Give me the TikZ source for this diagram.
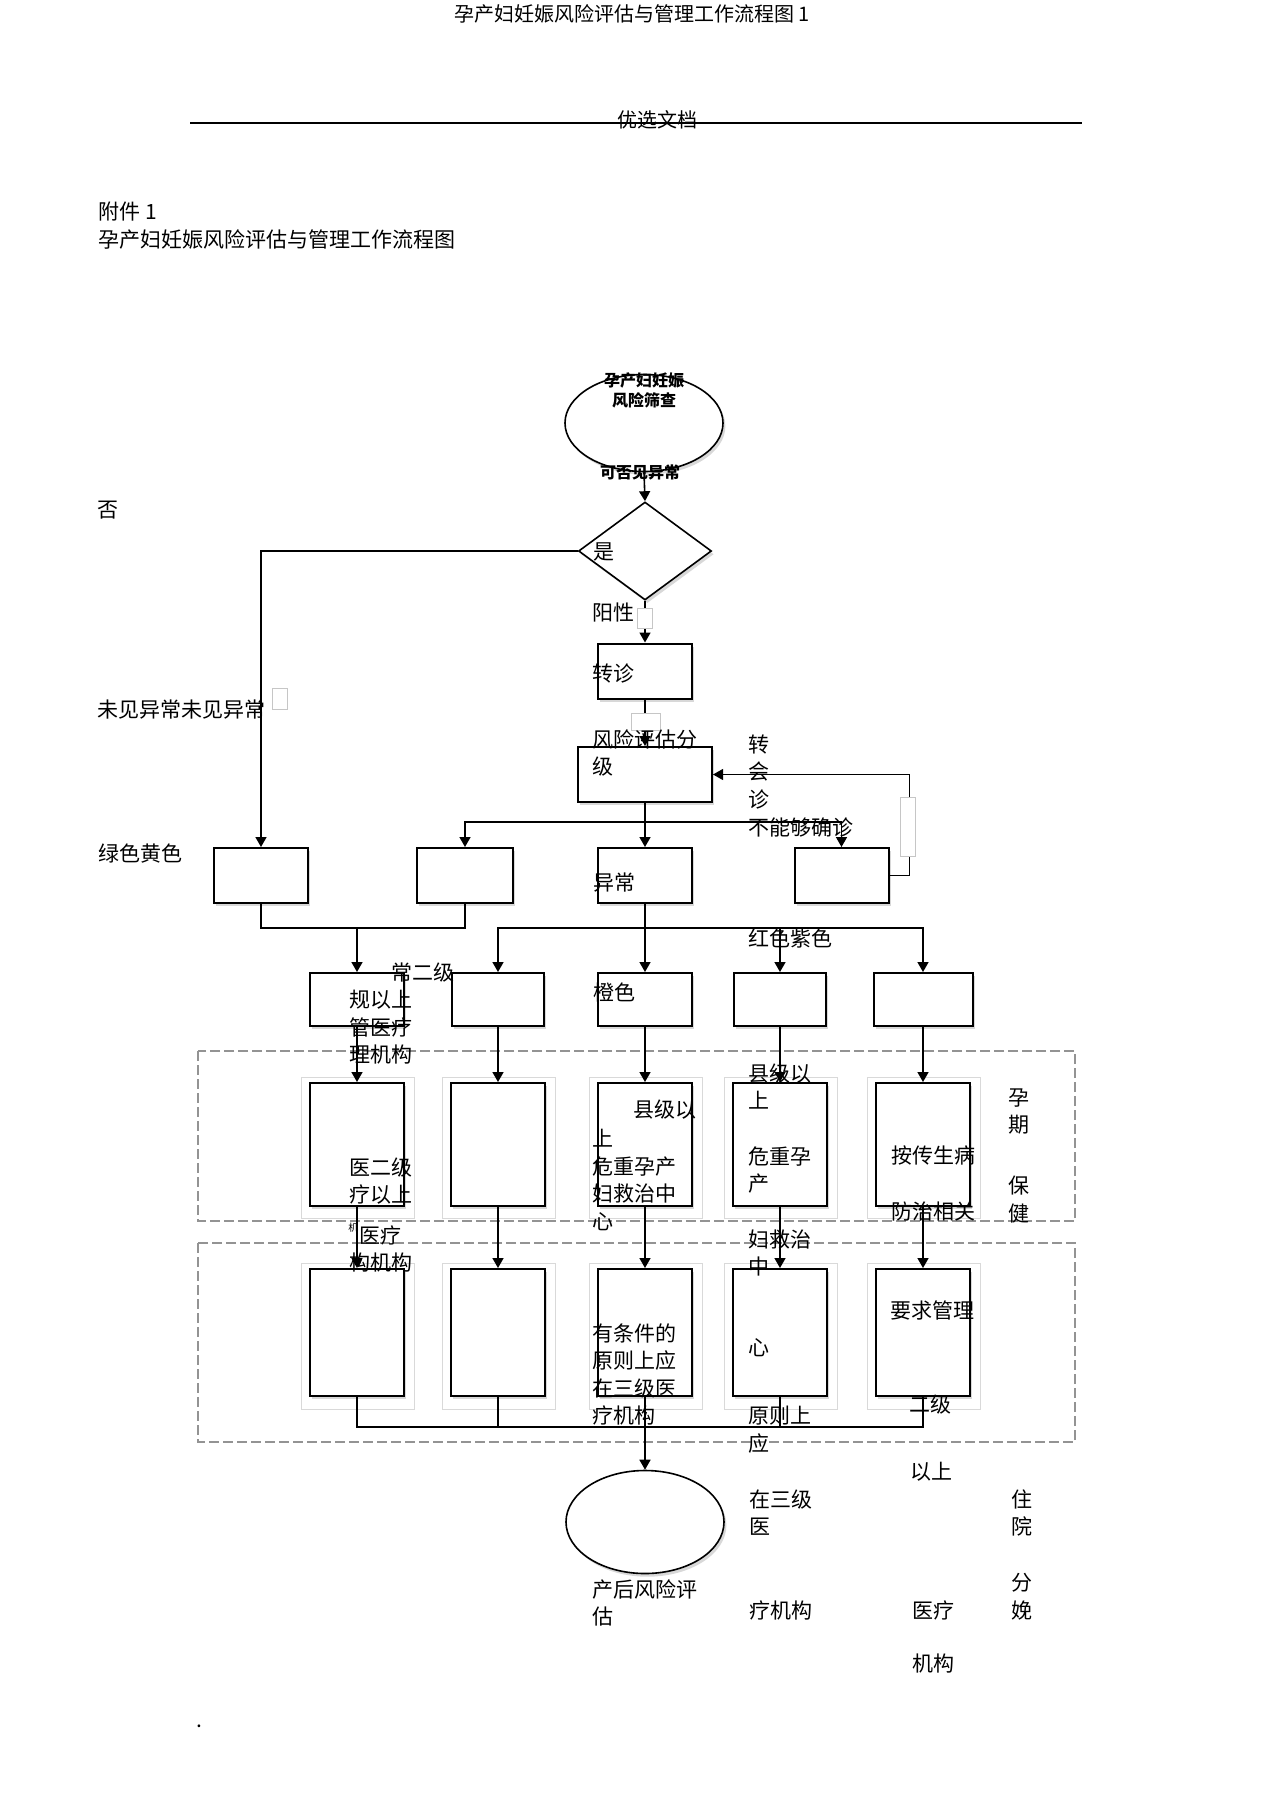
\documentclass[tikz,border=0pt]{standalone}
\usepackage{fontspec}
\setmainfont{Noto Sans CJK SC}
\usetikzlibrary{arrows.meta,shapes.geometric,shadows,calc}

\tikzset{
  softshade/.style={drop shadow={shadow xshift=1.2pt,shadow yshift=-1.6pt,opacity=.3}},
  box/.style={draw,line width=1pt,fill=white,minimum width=47pt,minimum height=27.5pt,inner sep=0pt,softshade},
  tallbox/.style={box,minimum height=61.5pt},
  oval/.style={ellipse,draw,line width=0.8pt,fill=white,minimum width=79pt,inner sep=0pt,softshade},
  dia/.style={diamond,draw,line width=0.8pt,fill=white,minimum width=66.5pt,minimum height=49pt,inner sep=0pt,softshade},
  grp/.style={draw=gray!85,line width=1pt,dash pattern=on 5pt off 2pt},
  litframe/.style={draw=gray!30,line width=0.5pt},
  tinybox/.style={draw=gray!45,fill=white,line width=0.4pt},
  line/.style={line width=0.8pt},
  conn/.style={line width=0.8pt,-{Triangle[length=5pt,width=5.5pt]}},
  thinconn/.style={line width=0.5pt,-{Triangle[length=5pt,width=5.5pt]}},
  hdr/.style={font=\fontsize{10pt}{12pt}\selectfont,inner sep=0pt},
  lbl/.style={font=\fontsize{10.5pt}{13.75pt}\selectfont,inner sep=0pt,anchor=west,align=left},
  mlbl/.style={lbl,anchor=north west},
  small/.style={font=\fontsize{8pt}{10pt}\selectfont\bfseries,inner sep=0pt,align=center}
}

\begin{document}
\begin{tikzpicture}[x=0.5pt,y=-0.5pt]
  \useasboundingbox[fill=white] (0,0) rectangle (1274,1804);

  % page header
  \node[hdr] (title) at (632,14) {孕产妇妊娠风险评估与管理工作流程图 1};
  \draw[line width=1pt] (190,123) -- (1082,123);
  \node[hdr] (doc) at (657,120) {优选文档};
  \node[lbl] (att) at (98,212) {附件 1};
  \node[lbl] (head) at (98,240) {孕产妇妊娠风险评估与管理工作流程图};

  % dashed stages
  \draw[grp] (198,1051) rectangle (1075,1221);
  \draw[grp] (198,1243) rectangle (1075,1442);

  % screening and grading
  \node[oval,minimum height=48.5pt] (scr) at (644,423) {};
  \node[dia] (chk) at (645,551) {};
  \node[box] (ref) at (645,671) {};
  \node[box,minimum width=67pt] (grade) at (645,774.5) {};

  % colour boxes
  \node[box] (green) at (261,875.5) {};
  \node[box,minimum width=48pt] (yellow) at (465,875.5) {};
  \node[box] (abn) at (645,875.5) {};
  \node[box] (unsure) at (841.5,875.5) {};

  % management level
  \node[box,minimum height=26.5pt] (r1) at (357,999.5) {};
  \node[box,minimum height=26.5pt,minimum width=46pt] (r2) at (498,999.5) {};
  \node[box,minimum height=26.5pt] (r3) at (645,999.5) {};
  \node[box,minimum height=26.5pt,minimum width=46pt] (r4) at (780,999.5) {};
  \node[box,minimum height=26.5pt,minimum width=49.5pt] (r5) at (923,999.5) {};

  % pregnancy care and delivery
  \foreach \x/\n in {357/1,498/2,645/3,780/4,923/5} {
    \draw[litframe] (\x-56,1077) rectangle (\x+57,1218);
    \node[tallbox] (q\n) at (\x,1144.5) {};
    \draw[litframe] (\x-56,1263) rectangle (\x+57,1409);
    \node[tallbox,minimum height=63.5pt] (p\n) at (\x,1332.5) {};
  }

  \node[oval,minimum height=51.5pt] (post) at (645,1522) {};

  % connectors
  \draw[conn] (scr.south) -- (chk.north);
  \draw[conn] (chk.west) -| (green.north);
  \draw[conn] (chk.south) -- (ref.north);
  \draw[conn] (ref.south) -- (grade.north);
  \draw[conn] (grade.south) -- (abn.north);
  \coordinate (split1) at (645,822);
  \draw[conn] (split1) -| (yellow.north);
  \draw[conn] (split1) -| (unsure.north);
  \draw[thinconn] (unsure.east) -- ++(20,0) |- (grade.east);

  \coordinate (join1) at (357,928);
  \draw[line] (green.south) |- (join1) -| (yellow.south);
  \draw[conn] (join1) -- (r1.north);
  \coordinate (split2) at (645,928);
  \draw[conn] (abn.south) -- (r3.north);
  \draw[conn] (split2) -| (r2.north);
  \draw[conn] (split2) -| (r4.north);
  \draw[conn] (split2) -| (r5.north);

  \foreach \n in {1,...,5} {
    \draw[conn] (r\n.south) -- (q\n.north);
    \draw[conn] (q\n.south) -- (p\n.north);
  }
  \coordinate (join2) at (645,1427);
  \foreach \n in {1,2,4,5} \draw[line] (p\n.south) |- (join2);
  \draw[conn] (p3.south) -- (post.north);

  % stray marks
  \draw[tinybox] (272,688) rectangle (287,709);
  \draw[tinybox] (637,608) rectangle (652,628);
  \draw[tinybox] (631,713) rectangle (660,730);
  \draw[tinybox] (900,797) rectangle (915,856);

  % texts
  \node[small] (scrtxt) at (644,390) {孕产妇妊娠\\风险筛查};
  \node[small] (chktxt) at (640,472) {可否见异常};
  \node[lbl] (no) at (97,510) {否};
  \node[lbl] (yes) at (593,552) {是};
  \node[lbl] (pos) at (592,613) {阳性};
  \node[lbl] (none) at (97,710) {未见异常未见异常};
  \node[lbl] (reftxt) at (592,673) {转诊};
  \node[mlbl] (gradetxt) at (592,729) {风险评估分\\级};
  \node[mlbl] (consult) at (748,734) {转\\会\\诊};
  \node[lbl] (cannot) at (748,827) {不能够确诊};
  \node[lbl] (gy) at (98,854) {绿色黄色};
  \node[lbl] (abntxt) at (593,883) {异常};
  \node[lbl] (rp) at (748,938) {红色紫色};
  \node[lbl] (t1a) at (391,973) {常二级};
  \node[mlbl] (t1b) at (349,990) {规以上\\管医疗\\理机构};
  \node[lbl] (orange) at (593,992) {橙色};
  \node[mlbl] (t4a) at (748,1063) {县级以\\上};
  \node[lbl] (t3a) at (633,1110) {县级以};
  \node[mlbl] (t3b) at (592,1129) {上\\危重孕产\\妇救治中\\心};
  \node[mlbl] (preg) at (1008,1088) {孕\\期};
  \node[mlbl] (care) at (1008,1176) {保\\健};
  \node[mlbl] (t4b) at (748,1146) {危重孕\\产};
  \node[lbl] (t5a) at (891,1155) {按传生病};
  \node[mlbl] (t1c) at (349,1157) {医二级\\疗以上};
  \node[lbl] (t5b) at (891,1212) {防治相关};
  \node[lbl,font=\fontsize{5pt}{6pt}\selectfont] (t1d) at (348,1228) {机};
  \node[lbl] (t1e) at (359,1235) {医疗};
  \node[mlbl] (t4c) at (748,1229) {妇救治\\中};
  \node[lbl] (t1f) at (349,1263) {构机构};
  \node[lbl] (t5c) at (890,1310) {要求管理};
  \node[mlbl] (t3c) at (592,1323) {有条件的\\原则上应\\在三级医\\疗机构};
  \node[lbl] (t4d) at (748,1348) {心};
  \node[lbl] (t5d) at (909,1405) {二级};
  \node[mlbl] (t4e) at (748,1406) {原则上\\应};
  \node[lbl] (t5e) at (910,1472) {以上};
  \node[mlbl] (t4f) at (749,1489) {在三级\\医};
  \node[mlbl] (stay) at (1011,1489) {住\\院};
  \node[mlbl] (birth) at (1011,1573) {分\\娩};
  \node[mlbl] (posttxt) at (592,1579) {产后风险评\\估};
  \node[lbl] (t4g) at (749,1610) {疗机构};
  \node[lbl] (t5f) at (912,1610) {医疗};
  \node[lbl] (t5g) at (912,1664) {机构};
  \node[lbl] (dot) at (196,1726) {.};
\end{tikzpicture}
\end{document}
